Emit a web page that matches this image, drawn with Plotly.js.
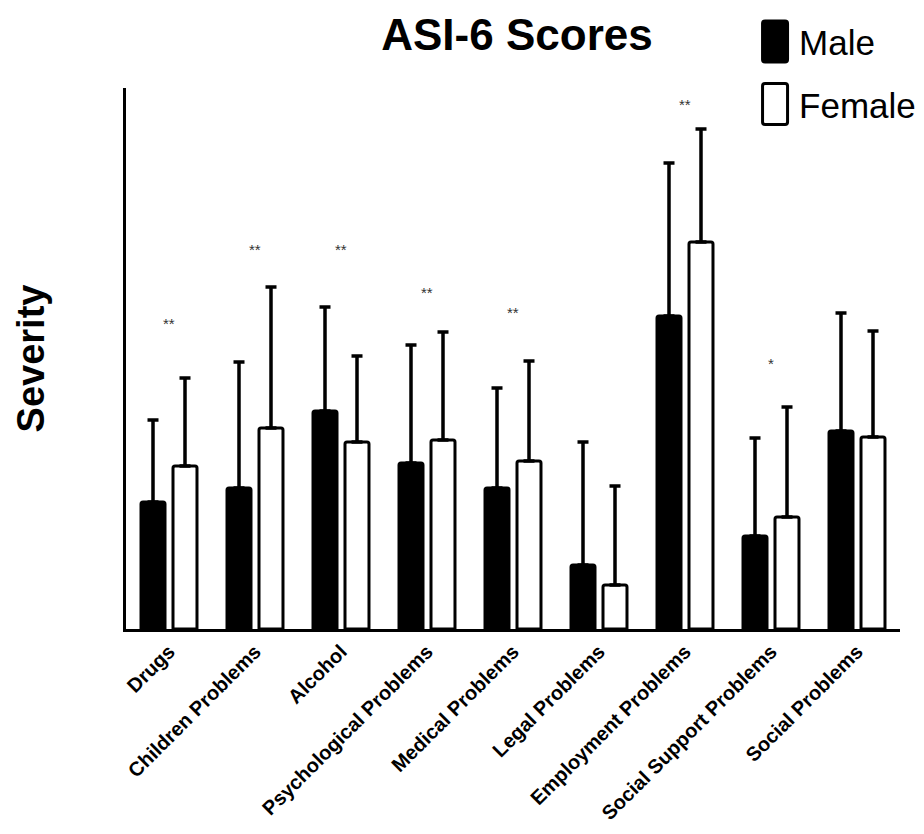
<!DOCTYPE html>
<html>
<head>
<meta charset="utf-8">
<script src="https://cdn.plot.ly/plotly-3.0.1.min.js"></script>
<style>html,body{margin:0;padding:0;background:#fff;}#chart{width:924px;height:834px;}</style>
</head>
<body>
<div id="chart"></div>
<script>
const categories = ['Drugs','Children Problems','Alcohol','Psychological Problems','Medical Problems','Legal Problems','Employment Problems','Social Support Problems','Social Problems'];
const maleMean   = [1.27, 1.41, 2.18, 1.66, 1.41, 0.64, 3.13, 0.93, 1.98];
const maleErr    = [0.82, 1.26, 1.04, 1.18, 1.00, 1.23, 1.53, 0.98, 1.18];
const femaleMean = [1.63, 2.01, 1.87, 1.89, 1.68, 0.44, 3.87, 1.12, 1.92];
const femaleErr  = [0.88, 1.41, 0.86, 1.08, 1.00, 0.99, 1.13, 1.10, 1.06];
const sigMarks   = ['**','**','**','**','**','','**','*',''];
const sigHeights = [3.06, 3.80, 3.80, 3.37, 3.17, null, 5.25, 2.66, null];

const FONT = 'Liberation Sans, Arial, Helvetica, sans-serif';
const zeros = categories.map(() => 0);

const traces = [
  {
    type: 'bar', name: 'Male', x: categories, y: maleMean, legendgroup: 'm',
    marker: {color: '#000', line: {color: '#000', width: 3}, cornerradius: 2},
    error_y: {type: 'data', symmetric: false, array: maleErr, arrayminus: zeros, color: '#000', thickness: 3.5, width: 5.5}
  },
  {
    type: 'bar', name: 'Female', x: categories, y: femaleMean, legendgroup: 'f',
    marker: {color: '#fff', line: {color: '#000', width: 3}, cornerradius: 2},
    error_y: {type: 'data', symmetric: false, array: femaleErr, arrayminus: zeros, color: '#000', thickness: 3.5, width: 5.5}
  }
];

const annotations = [];
categories.forEach((c, i) => {
  if (sigMarks[i]) {
    annotations.push({x: c, y: sigHeights[i], xref: 'x', yref: 'y', text: sigMarks[i], showarrow: false,
      font: {family: FONT, size: 15, color: '#333'}, xanchor: 'center', yanchor: 'middle'});
  }
});

const layout = {
  width: 924, height: 834,
  paper_bgcolor: '#fff', plot_bgcolor: '#fff',
  margin: {l: 126, r: 24, t: 88, b: 205, autoexpand: false},
  font: {family: FONT, color: '#000'},
  title: {text: '<b>ASI-6 Scores</b>', font: {family: FONT, size: 44, color: '#000'},
          x: 0.5595, xanchor: 'center', y: 0.958, yanchor: 'middle'},
  barmode: 'group', bargap: 0.256, bargroupgap: 0.25,
  showlegend: true,
  legend: {x: 0.8179, xanchor: 'left', y: 1.14, yanchor: 'top', font: {family: FONT, size: 35, color: '#000'},
           bgcolor: 'rgba(0,0,0,0)', traceorder: 'grouped', tracegroupgap: 14, itemclick: false},
  xaxis: {range: [-0.5, 8.5], showline: true, linecolor: '#000', linewidth: 3, ticks: '', showgrid: false,
          zeroline: false, automargin: false, tickangle: -45, tickfont: {family: FONT, size: 20, color: '#000', weight: 'bold'}},
  yaxis: {range: [0, 5.41], showline: true, linecolor: '#000', linewidth: 3, ticks: '', showticklabels: false,
          showgrid: false, zeroline: false, automargin: false,
          title: {text: '<b>Severity</b>', font: {family: FONT, size: 38, color: '#000'}, standoff: 67}},
  annotations: annotations
};

Plotly.newPlot('chart', traces, layout, {staticPlot: true, displayModeBar: false}).then(gd => {
  const items = gd.querySelectorAll('.legend .traces');
  items.forEach(it => {
    const p = it.querySelector('.legendpoints path');
    if (p) {
      p.setAttribute('d', 'M-14,-20.5Q-16.5,-20.5 -16.5,-18V18Q-16.5,20.5 -14,20.5H6Q8.5,20.5 8.5,18V-18Q8.5,-20.5 6,-20.5Z');
      p.style.strokeWidth = '3px';
    }
  });
});
</script>
</body>
</html>
